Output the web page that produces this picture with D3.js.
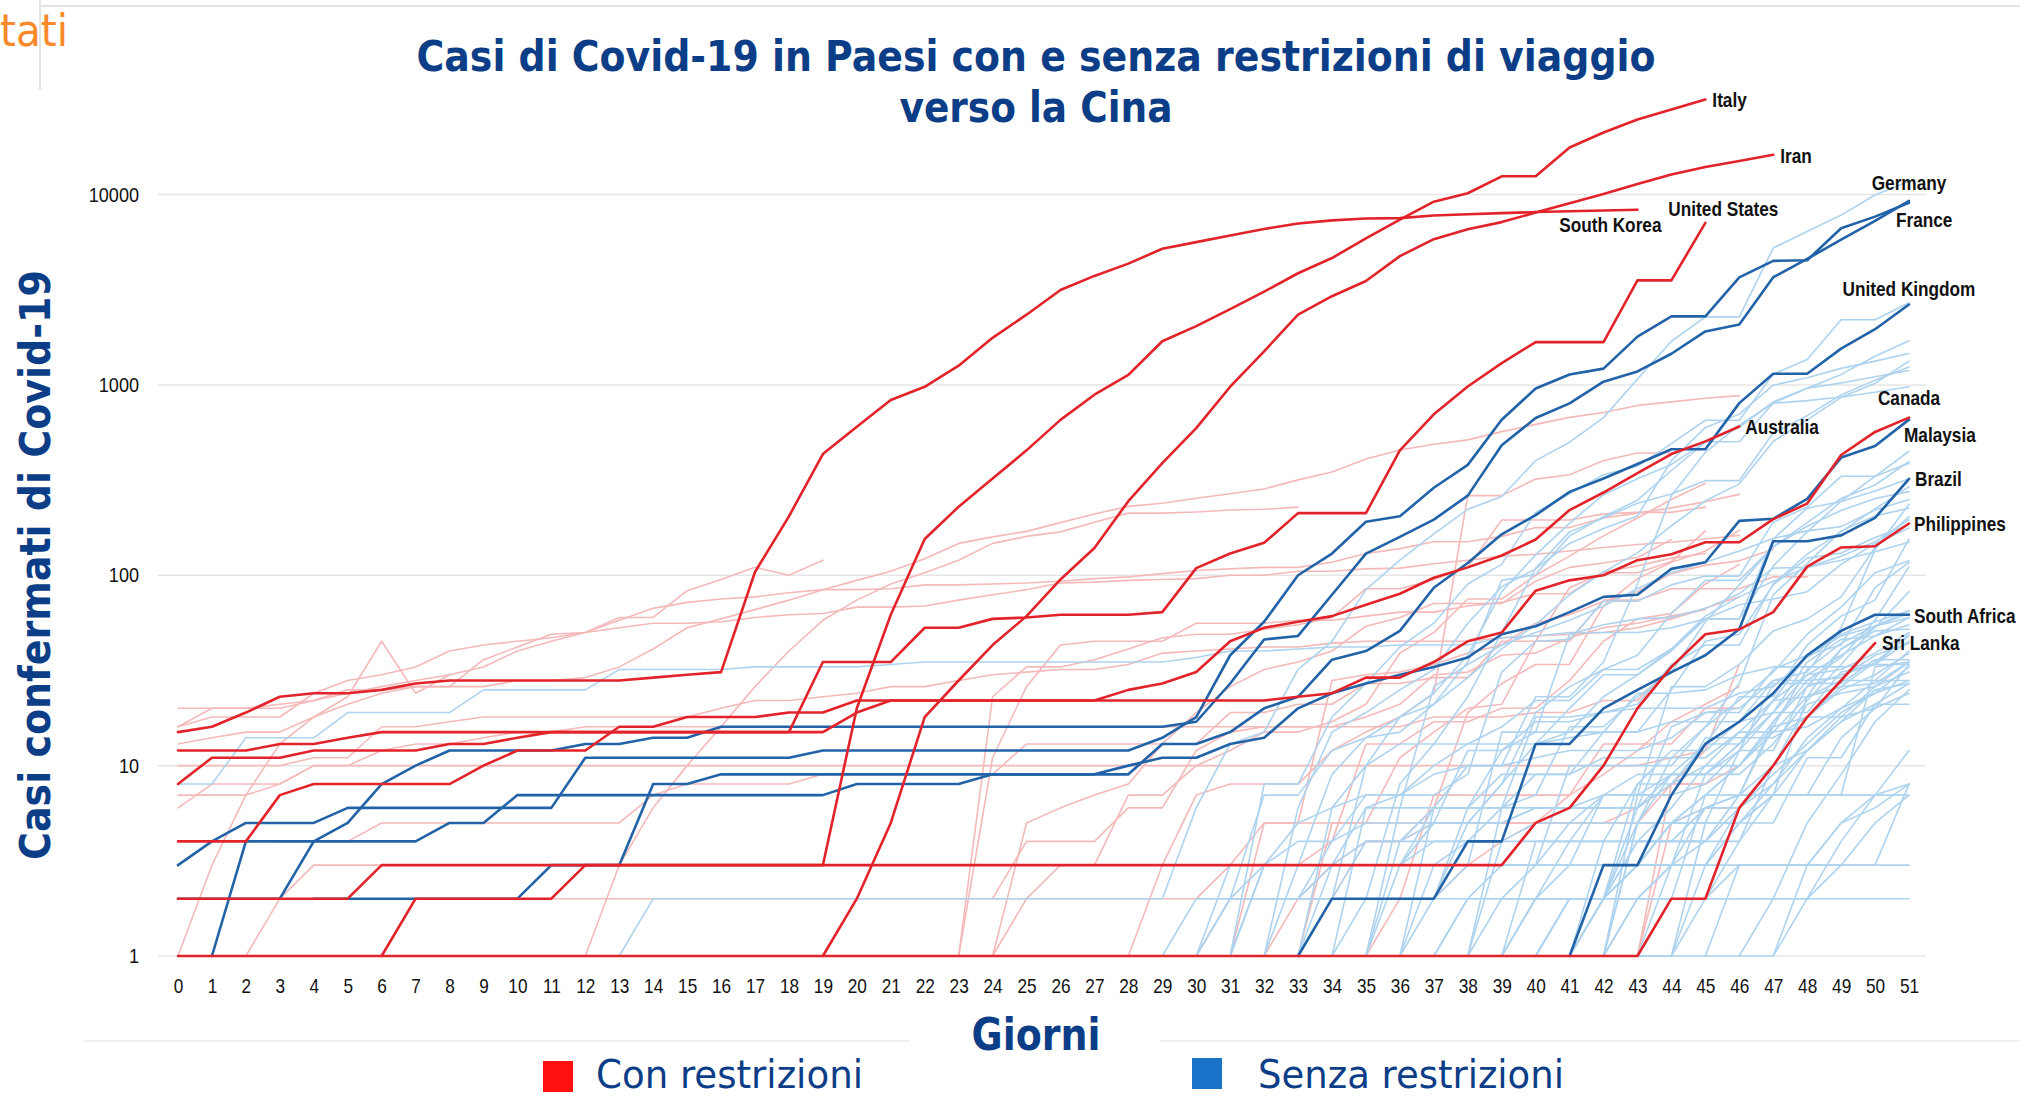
<!DOCTYPE html>
<html>
<head>
<meta charset="utf-8">
<script src="https://cdn.jsdelivr.net/npm/d3@7"></script>
<style>
  html, body { margin: 0; padding: 0; background: #fff; }
  svg { display: block; }
</style>
</head>
<body>
<div id="root"></div>
<script>
// x axis: giorni 0..51
const days = [0,1,2,3,4,5,6,7,8,9,10,11,12,13,14,15,16,17,18,19,20,21,22,23,24,25,
  26,27,28,29,30,31,32,33,34,35,36,37,38,39,40,41,42,43,44,45,46,47,48,49,50,51];
const yTicks = [1, 10, 100, 1000, 10000];

// highlighted countries with travel restrictions (red)
const conRestrizioni = [
  { name: "Italy", start: 0, values: [2,2,2,2,2,2,3,3,3,3,3,3,3,3,3,3,3,3,3,3,20,62,155,229,322,453,655,888,1128,1694,2036,2502,3089,3858,4636,5883,7375,9172,10149,12462,12462,17660,21157,24747,27980,31506] },
  { name: "Iran", start: 19, values: [1,2,5,18,28,43,61,95,139,245,388,593,978,1501,2336,2922,3513,4747,5823,6566,7161,8042,9000,10075,11364,12729,13938,14991,16169] },
  { name: "South Korea", start: 0, values: [15,16,19,23,24,24,25,27,28,28,28,28,28,28,29,30,31,104,204,433,602,833,977,1261,1766,2337,3150,3736,4335,5186,5621,6088,6593,7041,7314,7478,7513,7755,7869,7979,8086,8162,8236,8320] },
  { name: "United States", start: 0, values: [8,11,11,11,12,12,12,12,13,13,14,15,15,15,15,15,15,15,15,35,35,35,53,53,59,60,62,62,62,64,109,130,148,212,212,212,453,700,980,1300,1678,1678,1678,3540,3540,7100] },
  { name: "Australia", start: 0, values: [12,12,12,13,13,14,15,15,15,15,15,15,15,15,15,15,15,15,15,15,19,22,22,22,22,22,22,22,25,27,31,45,53,57,61,70,80,97,110,127,154,220,272,344,433,505,604] },
  { name: "Malaysia", start: 0, values: [4,4,4,7,8,8,8,8,8,10,12,12,12,16,16,18,18,18,19,19,22,22,22,22,22,22,22,22,22,22,22,22,22,23,24,29,29,35,45,50,83,94,100,120,129,149,149,197,238,428,566,673] },
  { name: "Philippines", start: 6, values: [1,2,2,2,2,2,3,3,3,3,3,3,3,3,3,3,3,3,3,3,3,3,3,3,3,3,3,3,3,3,3,3,3,3,5,6,10,20,33,49,52,64,111,140,142,187] },
  { name: "Sri Lanka", start: 0, values: [1,1,1,1,1,1,1,1,1,1,1,1,1,1,1,1,1,1,1,1,1,1,1,1,1,1,1,1,1,1,1,1,1,1,1,1,1,1,1,1,1,1,1,1,2,2,6,10,18,28,44] }
];

// highlighted countries without travel restrictions (blue)
const senzaRestrizioni = [
  { name: "Germany", start: 1, values: [1,4,4,4,5,8,10,12,12,12,12,13,13,14,14,16,16,16,16,16,16,16,16,16,16,16,16,16,16,17,27,46,48,79,130,159,196,262,482,670,799,1040,1176,1457,1908,2078,3675,4585,5795,7272,9257] },
  { name: "France", start: 0, values: [3,4,5,5,5,6,6,6,6,6,6,6,11,11,11,11,11,11,11,12,12,12,12,12,12,12,12,12,12,14,18,38,57,100,130,191,204,288,380,656,957,1134,1217,1792,2289,2289,3672,4480,4513,6650,7652,9043] },
  { name: "United Kingdom", start: 4, values: [2,2,2,2,2,2,2,3,3,3,8,8,9,9,9,9,9,9,9,9,9,9,9,9,9,13,13,15,20,23,36,40,51,86,116,164,207,274,322,384,459,459,802,1144,1145,1551,1960,2642] },
  { name: "Canada", start: 0, values: [2,2,2,2,4,4,4,4,5,5,7,7,7,7,7,7,7,7,7,7,8,8,8,8,9,9,9,9,10,11,11,13,14,20,24,27,30,33,37,49,54,64,77,79,108,117,193,198,252,415,478,657] },
  { name: "Brazil", start: 33, values: [1,2,2,2,2,4,4,13,13,20,25,31,38,52,151,151,162,200,321] },
  { name: "South Africa", start: 41, values: [1,3,3,7,13,17,24,38,51,62,62] }
];

// other countries with restrictions (light red)
const altriCon = [
  { start: 0, values: [20,20,20,21,22,25,25,26,26,26,28,28,29,33,41,53,59,66,74,84,94,105,122,147,159,170,189,210,230,239,254,268,284,317,349,408,455,488,514,568,620,675,716,780,814,850,878] },
  { start: 0, values: [16,18,18,18,24,28,30,33,40,43,45,47,50,58,67,72,75,77,81,84,84,85,89,89,90,91,93,96,98,102,106,108,110,110,117,130,138,150,150,160,178,178,200,212,226,243,266] },
  { start: 0, values: [13,14,15,15,18,21,24,26,26,36,42,49,50,53,56,56,57,60,62,63,68,68,69,74,79,84,91,92,94,95,96,100,100,105,105,108,109,115,120,126,129,134,140,145,149,155,162] },
  { start: 0, values: [10,10,10,10,11,11,16,16,17,18,18,18,18,18,18,18,20,22,22,23,24,26,26,28,30,31,32,32,34,39,40,41,42,42,44,45,45,45,45,47,48,49,50,53,59,67,77] },
  { start: 0, values: [6,8,8,8,10,10,12,13,13,14,15,15,16,16,16,16,16,16,16,16,16,16,16,16,16,16,16,16,16,16,16,16,16,16,16,18,21,30,31,38,39,47,53,56,61,66] },
  { start: 0, values: [1,1,1,2,3,3,3,3,3,3,3,3,3,3,3,3,3,3,3,3,3,3,3,3,3,3,3,3,3,3,3,3,5,5,28,30,31,34,39,43,56,62,73,82,102,113,119,137] },
  { start: 0, values: [2,2,2,2,2,2,2,2,2,2,2,2,2,2,2,2,2,2,2,2,2,2,2,2,2,2,2,2,2,2,2,3,3,3,4,13,13,17,17,20,20,28,45,59,63,90,114] },
  { start: 21, values: [1,1,1,1,2,3,3,7,7,10,12,15,15,17,21,39,50,75,75,100,126,161,200,250,304] },
  { start: 23, values: [1,11,26,43,45,45,45,56,56,56,58,58,61,64,64,69,72,80,80,104,112,123,130] },
  { start: 23, values: [1,23,33,33,36,41,47,49,49,52,55,60,85,85,95,110,195,195,195,210,214,214,228] },
  { start: 27, values: [1,1,3,7,8,8,8,12,15,18,24,262,262,320,337,401,439,439] },
  { start: 24, values: [1,5,6,7,8,13,19,26,32,35,40,54,60,71,71,71,93,110,116,124,154] },
  { start: 24, values: [2,4,4,4,6,6,12,15,16,16,16,16,16,18,18,18,19,19,22,22,33] },
  { start: 28, values: [1,1,1,1,1,2,3,4,4,5,5,5,5,5,5,6,8,8] },
  { start: 31, values: [2,2,2,2,4,4,6,19,27,34,34,69,96,117,134,172] },
  { start: 3, values: [4,4,4,5,5,5,5,5,5,5,5,7,8,8,8,8,9,9,9,9,9,9,13,13,13,13,13,13,19,19,21,21,27,27,29,29,45,45,45,74,74,85,85,85,98,98] },
  { start: 0, values: [7,7,7,8,10,10,10,10,10,10,10,10,10,10,10,10,10,10,10,10,10,10,10,10,10,10,10,10,10,10,10,10,10,10,10,10,10,10,10,10,10,10,10,10,11,12] },
  { start: 0, values: [1,3,7,13,18,23,45,24,30] },
  { start: 0, values: [16,20,20,20,22,24,26,28,30,33,40,45,50,60,60,83,95,110,100,120] },
  { start: 30, values: [1,1,1,1,5,5,11,15,20,21,45,86,103,103,118,171] },
  { start: 12, values: [1,3,6,10,16,26,40,58,74,90,103,120,147,160,169,190,212,212,215,220,222,228] },
  { start: 31, values: [1,1,1,1,1,1,1,1,1,1,1,1,1,8,12,34] },
  { start: 33, values: [1,1,1,2,2,3,4,5,7,9,12,17,21,26] },
  { start: 40, values: [1,1,1,1,5,6,6] },
  { start: 27, values: [1,1,1,1,1,5,5,5,5,5,5,5,5,5,5,5,5,8,8,10] },
  { start: 30, values: [1,2,2,2,2,2,2,7,7,7,7,7,13,13,13,20,20] }
];

// other countries without restrictions (light blue)
const altriSenza = [
  { start: 0, values: [8,8,14,14,14,19,19,19,19,25,25,25,25,32,32,32,32,33,33,33,33,34,35,35,35,35,35,35,35,35,37,40,40,41,42,42,43,43,43,47,48,50,50,50,53,59,70,75,82,114,147,177] },
  { start: 13, values: [1,2,2,2,2,2,2,2,2,2,2,2,2,2,2,2,2,6,13,15,32,45,84,120,165,222,259,400,500,673,1073,1695,2277,2277,5232,6391,7798,9942,11748] },
  { start: 30, values: [1,1,8,8,18,27,42,56,90,114,214,268,337,374,491,652,652,1139,1359,2200,2200,2700] },
  { start: 32, values: [1,1,6,10,18,24,38,82,128,188,265,321,382,503,503,804,959,1135,1413,1705] },
  { start: 31, values: [1,1,6,15,19,25,32,56,87,108,147,176,205,400,598,702,996,1090,1221,1333,1463] },
  { start: 5, values: [1,1,1,1,1,1,1,1,1,1,1,1,1,1,1,1,1,1,1,1,1,1,1,1,1,1,2,7,7,12,14,15,21,35,94,101,161,203,248,355,500,599,814,961,1022,1103,1190] },
  { start: 32, values: [1,1,3,4,4,6,10,10,23,23,35,90,262,442,615,801,827,864,914,977] },
  { start: 30, values: [2,2,3,3,9,14,18,21,29,41,55,79,104,131,182,246,302,504,655,860,1018,1332] },
  { start: 9, values: [1,1,1,1,1,1,1,1,1,1,1,1,1,1,1,1,1,1,1,1,1,1,1,1,1,1,2,8,13,23,50,109,169,200,239,267,314,314,559,689,886,1058,1243] },
  { start: 36, values: [2,2,5,8,13,20,30,30,41,59,59,112,169,245,331,448] },
  { start: 31, values: [1,3,4,4,7,7,7,9,31,45,46,73,73,89,99,99,190,228,331,331,387] },
  { start: 35, values: [3,3,5,5,8,19,26,32,38,63,94,94,141,189,253,298,396] },
  { start: 3, values: [1,1,1,1,1,1,1,1,1,1,1,1,1,1,1,1,1,1,1,1,1,1,1,1,1,1,1,1,2,2,2,3,6,6,6,6,12,15,15,23,30,40,59,59,155,225,244,277,321] },
  { start: 34, values: [1,1,1,2,6,6,18,18,19,21,34,43,43,90,129,169,223,292] },
  { start: 34, values: [1,1,6,26,34,43,50,58,69,85,103,117,134,156,171,180,220,250] },
  { start: 35, values: [1,1,1,1,2,3,10,10,10,10,16,27,79,115,171,205,225] },
  { start: 42, values: [1,5,11,16,22,31,49,68,103,119] },
  { start: 38, values: [1,6,7,16,16,23,31,57,89,141,181,219,253,275] },
  { start: 30, values: [1,1,3,3,3,3,3,3,4,6,9,9,15,15,25,45,49,89,123,131,158,184] },
  { start: 30, values: [1,3,3,5,6,7,7,9,10,10,11,12,12,12,14,19,19,32,38,49,57,65] },
  { start: 33, values: [2,4,5,5,5,5,5,6,6,7,7,7,8,12,12,26,41,53,82] },
  { start: 38, values: [1,1,4,4,4,8,8,13,23,23,43,61,74,155] },
  { start: 38, values: [1,1,1,1,2,8,12,12,17,19,19,31,34,45] },
  { start: 34, values: [1,6,7,10,13,13,13,14,15,15,17,17,17,28,28,37,58,111] },
  { start: 41, values: [1,1,7,9,9,13,22,38,43,86,117] },
  { start: 41, values: [1,1,1,3,9,9,13,22,34,54,65] },
  { start: 19, values: [1,1,1,1,1,1,1,1,1,1,1,1,1,1,1,2,2,2,2,3,15,15,49,55,59,60,67,80,109,110,126,150,196] },
  { start: 31, values: [1,1,1,1,1,3,5,12,12,17,17,19,20,20,20,24,26,37,48,54,60] },
  { start: 32, values: [2,2,2,4,4,5,5,5,6,6,6,6,16,19,20,28,31,53,136,236] },
  { start: 27, values: [1,1,1,2,2,2,2,2,10,13,13,13,16,22,22,32,32,41,61,77,93,110,120,133,149] },
  { start: 34, values: [1,1,1,1,2,3,3,5,7,7,26,26,34,51,59,77,140,203] },
  { start: 39, values: [2,2,4,7,9,9,13,13,19,30,32,39,50] },
  { start: 41, values: [1,3,3,5,7,10,16,32,44,54,63] },
  { start: 41, values: [1,1,1,1,5,12,19,35,46,48,55] },
  { start: 43, values: [4,4,6,7,7,23,41,51,52] },
  { start: 37, values: [1,1,1,1,1,2,6,8,10,10,17,26,30,34,49] },
  { start: 33, values: [1,1,1,1,1,1,1,1,1,1,2,3,3,6,8,12,17,25,27] },
  { start: 31, values: [1,1,3,3,3,3,4,4,4,13,15,15,24,24,25,30,33,33,33,34,34] },
  { start: 33, values: [1,1,1,1,6,6,6,6,6,6,6,9,9,12,27,27,27,36,36] },
  { start: 31, values: [1,1,1,1,1,1,3,3,3,3,3,7,7,7,14,14,14,18,26,35,48] },
  { start: 33, values: [3,3,3,3,6,6,9,9,9,11,11,11,11,15,15,23,28,28,28] },
  { start: 37, values: [1,1,1,2,2,2,3,5,6,7,17,28,29,38,44] },
  { start: 37, values: [1,1,4,4,4,4,4,4,4,4,10,21,24,26,31] },
  { start: 37, values: [1,1,1,1,1,1,2,2,7,7,16,18,18,20,24] },
  { start: 37, values: [1,1,1,1,2,2,5,5,5,5,5,11,11,21,21] },
  { start: 41, values: [1,1,5,9,9,13,22,23,26,27,35] },
  { start: 33, values: [1,1,1,1,1,1,1,2,2,2,2,2,2,2,2,2,3,3,8] },
  { start: 1, values: [1,1,1,1,1,1,1,1,1,1,1,1,1,1,1,1,1,1,1,1,1,1,1,1,1,1,1,1,1,1,1,1,1,1,1,1,1,1,1,1,1,2,2,3,3,5,7,7,7,33,35] },
  { start: 40, values: [1,2,2,4,6,10,15,22,30,38,48,60] },
  { start: 43, values: [1,1,3,5,8,14,20,28,40] },
  { start: 38, values: [1,1,1,2,2,3,3,4,6,9,13,19,24,33] },
  { start: 44, values: [1,2,4,7,12,18,26,35] },
  { start: 36, values: [1,1,2,2,2,3,3,3,5,7,10,15,16,20,24,28] },
  { start: 45, values: [1,1,2,5,9,17,25] },
  { start: 39, values: [1,2,2,2,4,4,4,7,10,12,17,21,27] },
  { start: 42, values: [1,1,2,2,3,3,3,5,6,8] },
  { start: 46, values: [1,1,3,3,5,7] },
  { start: 35, values: [1,1,1,1,1,1,1,1,1,1,1,3,3,3,5,7,12] },
  { start: 41, values: [1,2,3,3,6,6,10,18,25,30,39] },
  { start: 37, values: [1,1,1,1,1,4,4,4,4,7,7,7,14,20,34] },
  { start: 47, values: [1,2,4,7,8] },
  { start: 29, values: [1,1,1,1,1,1,1,4,4,4,4,5,5,5,5,5,5,5,7,7,7,7,7] },
  { start: 33, values: [2,2,2,2,2,2,2,2,2,2,2,2,2,2,2,2,2,2,2] },
  { start: 30, values: [1,1,3,3,3,3,3,3,3,3,3,3,3,3,3,3,3,3,3,3,3,3] }
];

// where each country name sits relative to the end of its line: [dx, dy, anchor]
const labelPos = {
  "Italy": [7, 0, "start"],
  "Iran": [7, 1, "start"],
  "South Korea": [24, 15, "end"],
  "United States": [18, -14, "middle"],
  "Australia": [6, 0, "start"],
  "Malaysia": [-5, 17, "start"],
  "Philippines": [5, 0, "start"],
  "Sri Lanka": [7, 0, "start"],
  "Germany": [0, -18, "middle"],
  "France": [-13, 17, "start"],
  "United Kingdom": [0, -16, "middle"],
  "Canada": [0, -22, "middle"],
  "Brazil": [6, 0, "start"],
  "South Africa": [5, 1, "start"]
};

const sans = "'Liberation Sans', Arial, sans-serif";
const tahoma = "'DejaVu Sans Condensed', 'DejaVu Sans', sans-serif";
const navy = "#0c3d87";

// squeeze text horizontally, the reference uses a condensed face
function condense(sel, k) {
  sel.each(function () {
    const w = this.getComputedTextLength();
    d3.select(this).attr("textLength", w * k).attr("lengthAdjust", "spacingAndGlyphs");
  });
}

const x = d3.scaleLinear().domain([0, 51]).range([178, 1909]);
const y = d3.scaleLog().domain([1, 10000]).range([956, 194.5]);

const svg = d3.select("#root").append("svg")
  .attr("width", 2020)
  .attr("height", 1098);

// slide decorations
svg.append("line").attr("x1", 40).attr("x2", 2020).attr("y1", 6).attr("y2", 6)
  .attr("stroke", "#e4e4e4").attr("stroke-width", 2);
svg.append("line").attr("x1", 40).attr("x2", 40).attr("y1", 0).attr("y2", 90)
  .attr("stroke", "#e4e4e4").attr("stroke-width", 2);
svg.append("text").attr("x", 0).attr("y", 46)
  .attr("font-family", tahoma).attr("font-size", 44)
  .attr("textLength", 68).attr("lengthAdjust", "spacingAndGlyphs")
  .attr("fill", "#f7892b").text("tati");
svg.append("line").attr("x1", 84).attr("x2", 910).attr("y1", 1041).attr("y2", 1041)
  .attr("stroke", "#efefef").attr("stroke-width", 2);
svg.append("line").attr("x1", 1160).attr("x2", 2020).attr("y1", 1041).attr("y2", 1041)
  .attr("stroke", "#efefef").attr("stroke-width", 2);

// title
svg.append("text").attr("x", 1036).attr("y", 71).attr("text-anchor", "middle")
  .attr("font-family", tahoma).attr("font-weight", "bold").attr("font-size", 42)
  .attr("textLength", 1239).attr("lengthAdjust", "spacingAndGlyphs")
  .attr("fill", navy).text("Casi di Covid-19 in Paesi con e senza restrizioni di viaggio");
svg.append("text").attr("x", 1036).attr("y", 122).attr("text-anchor", "middle")
  .attr("font-family", tahoma).attr("font-weight", "bold").attr("font-size", 42)
  .attr("textLength", 273).attr("lengthAdjust", "spacingAndGlyphs")
  .attr("fill", navy).text("verso la Cina");

// gridlines
svg.append("g").selectAll("line").data(yTicks).join("line")
  .attr("x1", 158).attr("x2", 1926)
  .attr("y1", d => y(d)).attr("y2", d => y(d))
  .attr("stroke", "#e6e6e6").attr("stroke-width", 1.5);

// axes
const xAxis = svg.append("g").attr("transform", "translate(0,956)")
  .call(d3.axisBottom(x).tickValues(days).tickSize(0).tickPadding(22).tickFormat(d3.format("d")));
xAxis.select(".domain").remove();
xAxis.selectAll("text").attr("font-family", sans).attr("font-size", 21).attr("fill", "#111")
  .call(condense, 0.82);

const yAxis = svg.append("g").attr("transform", "translate(158,0)")
  .call(d3.axisLeft(y).tickValues(yTicks).tickSize(0).tickPadding(19).tickFormat(d3.format("d")));
yAxis.select(".domain").remove();
yAxis.selectAll("text").attr("font-family", sans).attr("font-size", 21).attr("fill", "#111")
  .call(condense, 0.86);

// axis titles
svg.append("text").attr("transform", "translate(50,565) rotate(-90)")
  .attr("text-anchor", "middle")
  .attr("font-family", tahoma).attr("font-weight", "bold").attr("font-size", 42)
  .attr("textLength", 590).attr("lengthAdjust", "spacingAndGlyphs")
  .attr("fill", navy).text("Casi confermati di Covid-19");
svg.append("text").attr("x", 1036).attr("y", 1050).attr("text-anchor", "middle")
  .attr("font-family", tahoma).attr("font-weight", "bold").attr("font-size", 44)
  .attr("textLength", 129).attr("lengthAdjust", "spacingAndGlyphs")
  .attr("fill", navy).text("Giorni");

// lines
const toPoints = s => s.values.map((v, i) => ({ day: s.start + i, v }));
const line = d3.line().x(d => x(d.day)).y(d => y(d.v));

function drawLines(series, color, width) {
  svg.append("g").selectAll("path").data(series).join("path")
    .attr("d", s => line(toPoints(s)))
    .attr("fill", "none")
    .attr("stroke", color)
    .attr("stroke-width", width)
    .attr("stroke-linejoin", "round")
    .attr("stroke-linecap", "round");
}

drawLines(altriCon, "#f4b9b9", 1.6);
drawLines(altriSenza, "#aed3ef", 1.6);
drawLines(senzaRestrizioni, "#2263a8", 2.6);
drawLines(conRestrizioni, "#e2232a", 2.6);

// country labels at line ends, squeezed with a transform so the box stays narrow
const labelled = conRestrizioni.concat(senzaRestrizioni);
const labels = svg.append("g").selectAll("g").data(labelled).join("g")
  .attr("transform", s => {
    const lx = x(s.start + s.values.length - 1) + labelPos[s.name][0];
    const ly = y(s.values[s.values.length - 1]) + labelPos[s.name][1];
    return `translate(${lx},${ly}) scale(0.82,1)`;
  });
labels.append("text")
  .attr("dy", "0.35em")
  .attr("text-anchor", s => labelPos[s.name][2])
  .attr("font-family", sans).attr("font-weight", "bold").attr("font-size", 21)
  .attr("fill", "#111")
  .text(s => s.name);

// legend (kept just inside the bottom edge)
const legend = [
  { label: "Con restrizioni", color: "#ff1010", x: 543, y: 1061, tx: 596, w: 267 },
  { label: "Senza restrizioni", color: "#1a73c8", x: 1192, y: 1058, tx: 1258, w: 306 }
];
const lg = svg.append("g").selectAll("g").data(legend).join("g");
lg.append("rect").attr("x", d => d.x).attr("y", d => d.y)
  .attr("width", 30).attr("height", 31).attr("fill", d => d.color);
lg.append("text").attr("x", d => d.tx).attr("y", 1088)
  .attr("font-family", tahoma).attr("font-size", 39)
  .attr("textLength", d => d.w).attr("lengthAdjust", "spacingAndGlyphs")
  .attr("fill", navy).text(d => d.label);
</script>
</body>
</html>
